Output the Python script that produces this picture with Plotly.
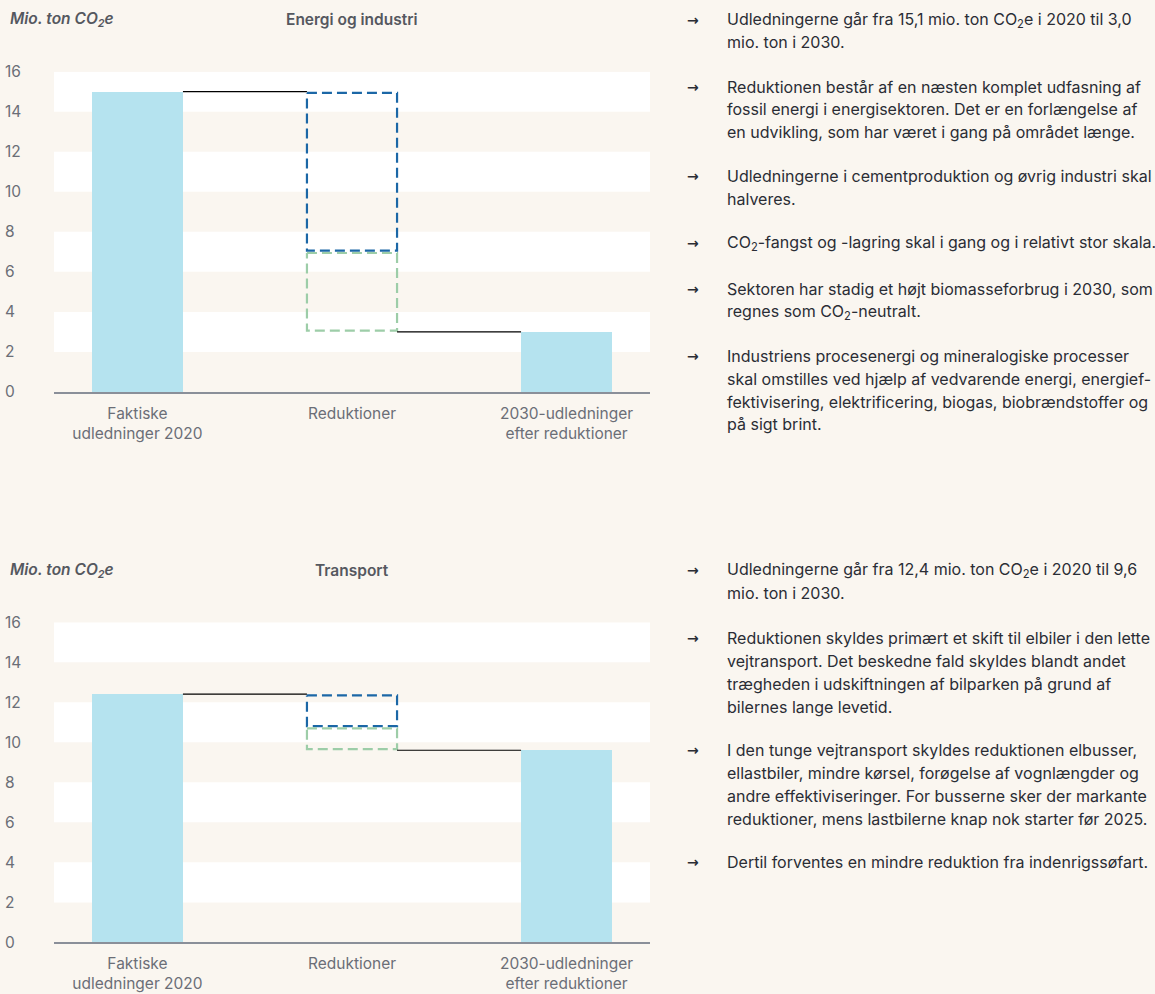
import plotly.graph_objects as go

# ---------------- data ----------------
categories = ["Faktiske<br>udledninger 2020", "Reduktioner", "2030-udledninger<br>efter reduktioner"]
y_ticks = [0, 2, 4, 6, 8, 10, 12, 14, 16]

energi_2020 = 15.0
energi_red_a = 8.0     # blue dashed box
energi_red_b = 4.0     # green dashed box
energi_2030 = 3.0

transport_2020 = 12.4
transport_red_a = 1.65
transport_red_b = 1.15
transport_2030 = 9.6

titles = ["Energi og industri", "Transport"]
unit_label = "Mio. ton CO<sub>2</sub>e"

bullets_energi = [
    ["Udledningerne går fra 15,1 mio. ton CO<sub>2</sub>e i 2020 til 3,0", "mio. ton i 2030."],
    ["Reduktionen består af en næsten komplet udfasning af",
     "fossil energi i energisektoren. Det er en forlængelse af",
     "en udvikling, som har været i gang på området længe."],
    ["Udledningerne i cementproduktion og øvrig industri skal", "halveres."],
    ["CO<sub>2</sub>-fangst og -lagring skal i gang og i relativt stor skala."],
    ["Sektoren har stadig et højt biomasseforbrug i 2030, som", "regnes som CO<sub>2</sub>-neutralt."],
    ["Industriens procesenergi og mineralogiske processer",
     "skal omstilles ved hjælp af vedvarende energi, energief-",
     "fektivisering, elektrificering, biogas, biobrændstoffer og",
     "på sigt brint."],
]
bullets_transport = [
    ["Udledningerne går fra 12,4 mio. ton CO<sub>2</sub>e i 2020 til 9,6", "mio. ton i 2030."],
    ["Reduktionen skyldes primært et skift til elbiler i den lette",
     "vejtransport. Det beskedne fald skyldes blandt andet",
     "trægheden i udskiftningen af bilparken på grund af",
     "bilernes lange levetid."],
    ["I den tunge vejtransport skyldes reduktionen elbusser,",
     "ellastbiler, mindre kørsel, forøgelse af vognlængder og",
     "andre effektiviseringer. For busserne sker der markante",
     "reduktioner, mens lastbilerne knap nok starter før 2025."],
    ["Dertil forventes en mindre reduktion fra indenrigssøfart."],
]

# ---------------- style ----------------
W, H = 1155, 994
FONT = "Inter"
BG = "#FAF6F0"
BAR = "#B5E3EF"
BLUE = "#1B67A6"
GREEN = "#9DCDA8"
AXIS = "#8A8F99"
TICK = "#6B6E77"
TITLE = "#55585F"
TEXT = "#2A2D35"


def py(ref_px):
    """vertical pixel position -> paper fraction (compensates page offset/scale)"""
    lay = (ref_px - 9.4) / 0.98
    return 1 - lay / H


BAR_W = 0.424
BOX_W = 0.42
INSET = 0.06
X_RANGE = [-0.389, 2.389]
X_DOM = [54 / W, 650 / W]
Y_DOMS = [[py(391), py(71)], [py(941), py(621)]]

fig = go.Figure()

panels = [
    (energi_2020, energi_red_a, energi_red_b, energi_2030),
    (transport_2020, transport_red_a, transport_red_b, transport_2030),
]

for i, (v20, ra, rb, v30) in enumerate(panels):
    xa = "x" if i == 0 else "x2"
    ya = "y" if i == 0 else "y2"
    fig.add_trace(go.Bar(x=[0, 2], y=[v20, v30], width=BAR_W, marker=dict(color=BAR, line=dict(width=0)),
                         xaxis=xa, yaxis=ya, showlegend=False, hoverinfo="skip"))
    top_a, bot_a = v20, v20 - ra
    top_b, bot_b = bot_a, bot_a - rb
    for (t, b, col) in [(top_a - INSET, bot_a + INSET, BLUE), (top_b - INSET, bot_b + INSET, GREEN)]:
        x0, x1 = 1 - BOX_W / 2, 1 + BOX_W / 2
        fig.add_trace(go.Scatter(x=[x0, x1, x1, x0, x0], y=[t, t, b, b, t], mode="lines",
                                 line=dict(color=col, width=2.2, dash="10px,5px"),
                                 xaxis=xa, yaxis=ya, showlegend=False, hoverinfo="skip"))
    fig.add_trace(go.Scatter(x=[BAR_W / 2, 1 - BOX_W / 2], y=[v20, v20], mode="lines",
                             line=dict(color="black", width=1.2), xaxis=xa, yaxis=ya,
                             showlegend=False, hoverinfo="skip"))
    fig.add_trace(go.Scatter(x=[1 + BOX_W / 2, 2 - BAR_W / 2], y=[bot_b, bot_b], mode="lines",
                             line=dict(color="black", width=1.2), xaxis=xa, yaxis=ya,
                             showlegend=False, hoverinfo="skip"))
    for yb in [14, 10, 6, 2]:
        fig.add_shape(type="rect", xref=f"{xa} domain", yref=ya, x0=0, x1=1, y0=yb, y1=yb + 2,
                      fillcolor="white", line=dict(width=0), layer="below")

axis_common_x = dict(range=X_RANGE, domain=X_DOM, tickvals=[0, 1, 2], ticktext=categories,
                     showline=True, linecolor=AXIS, linewidth=2, showgrid=False, zeroline=False,
                     ticks="outside", ticklen=6, tickcolor="rgba(0,0,0,0)",
                     tickfont=dict(family=FONT, size=15.5, color=TICK), fixedrange=True)
axis_common_y = dict(range=[0, 16], tickvals=y_ticks, showgrid=False, zeroline=False, showline=False,
                     side="right", anchor="free", position=4 / W,
                     tickfont=dict(family=FONT, size=15.5, color=TICK), fixedrange=True)

fig.update_layout(
    width=W, height=H, margin=dict(l=0, r=0, t=0, b=0),
    paper_bgcolor=BG, plot_bgcolor=BG, bargap=0,
    xaxis=dict(**axis_common_x, anchor="y"),
    yaxis=dict(**axis_common_y, domain=Y_DOMS[0]),
    xaxis2=dict(**axis_common_x, anchor="y2"),
    yaxis2=dict(**axis_common_y, domain=Y_DOMS[1]),
    font=dict(family=FONT),
)

anns = []
for i, top_px in enumerate([19, 569]):
    anns.append(dict(x=8 / W, y=py(top_px), xref="paper", yref="paper", xanchor="left", yanchor="middle",
                     text=unit_label, showarrow=False,
                     font=dict(family=FONT, size=15.5, color=TITLE, style="italic", weight=600)))
    anns.append(dict(x=352 / W, y=py(top_px), xref="paper", yref="paper", xanchor="center", yanchor="middle",
                     text=titles[i], showarrow=False,
                     font=dict(family=FONT, size=15.5, color=TITLE, weight=600)))

bullet_layout = [
    (bullets_energi, [19, 86, 175, 242, 288, 355]),
    (bullets_transport, [569, 637, 749, 861]),
]
LINE_H = 22.8
for bl, starts in bullet_layout:
    for lines, y0 in zip(bl, starts):
        anns.append(dict(x=685 / W, y=py(y0), xref="paper", yref="paper", xanchor="left", yanchor="middle",
                         text="→", showarrow=False,
                         font=dict(family="DejaVu Sans", size=14, color=TEXT, weight="bold")))
        for k, ln in enumerate(lines):
            yp = y0 + k * LINE_H
            anns.append(dict(x=725 / W, y=py(yp), xref="paper", yref="paper", xanchor="left",
                             yanchor="middle", text=ln, showarrow=False,
                             font=dict(family=FONT, size=16, color=TEXT)))

fig.update_layout(annotations=anns)
fig.write_html(
    "out.html",
    config={"displayModeBar": False},
    post_script="document.body.style.margin='0';document.body.style.background='#FAF6F0';",
)
